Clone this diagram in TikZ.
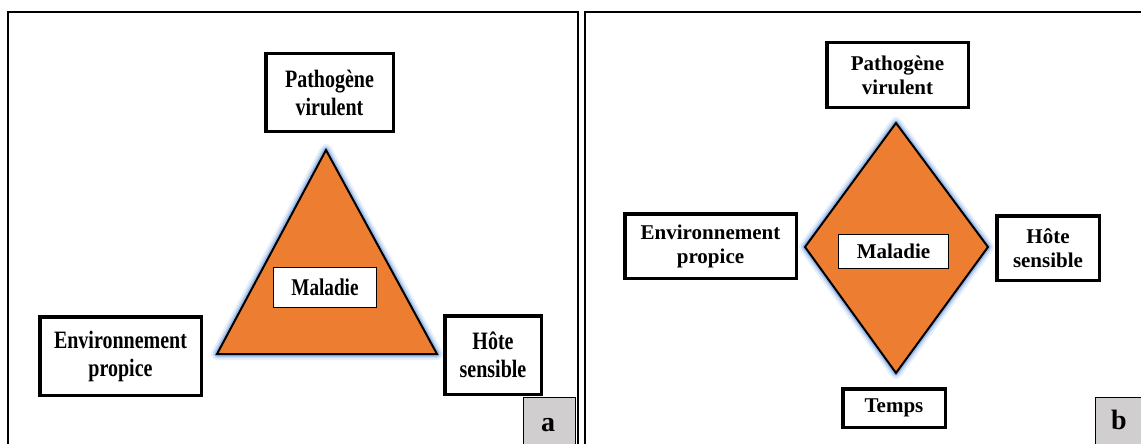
\documentclass[tikz,border=0pt]{standalone}
\usepackage{fontspec}
\setmainfont{Liberation Serif}
\newfontfamily\fonta[FakeStretch=0.8]{Liberation Serif}
\definecolor{orng}{HTML}{ED7D31}
\definecolor{glow}{HTML}{7FA7E6}
\definecolor{lblgray}{HTML}{D0CECE}
\begin{document}
\begin{tikzpicture}[x=1pt,y=-1pt,
  frame/.style={draw=black,line width=1.8pt},
  boxa/.style={draw=black,line width=3.5pt,fill=white,align=center,inner sep=0pt,
    font=\fonta\bfseries\fontsize{25}{28}\selectfont},
  boxb/.style={draw=black,line width=3.5pt,fill=white,align=center,inner sep=0pt,
    font=\bfseries\fontsize{21}{24}\selectfont},
  midbox/.style={draw=black,line width=1pt,fill=white,inner sep=0pt},
  lbl/.style={draw=black,line width=1.2pt,fill=lblgray,inner sep=0pt,
    font=\bfseries\fontsize{28}{30}\selectfont},
  glowA/.style={draw=glow,line width=12pt,line join=round,opacity=0.18},
  glowB/.style={draw=glow,line width=8pt,line join=round,opacity=0.3},
  glowC/.style={draw=glow,line width=5pt,line join=round,opacity=0.6},
  orangeshape/.style={fill=orng,draw=black,line width=2pt,line join=miter}
]
\useasboundingbox (0,0) rectangle (1141,444);
\clip (0,0) rectangle (1141,444);
\fill[white] (0,0) rectangle (1141,444);
% panel frames
\draw[frame] (8,12) rectangle (578,470);
\draw[frame] (585,12) rectangle (1170,470);

% ---------- panel a ----------
\coordinate (ta) at (326,150);
\coordinate (la) at (217,354);
\coordinate (ra) at (437,354);
\draw[glowA] (ta) -- (la) -- (ra) -- cycle;
\draw[glowB] (ta) -- (la) -- (ra) -- cycle;
\draw[glowC] (ta) -- (la) -- (ra) -- cycle;
\draw[orangeshape] (ta) -- (la) -- (ra) -- cycle;

\node[boxa,minimum width=127.5pt,minimum height=77.5pt] (pa) at (329.5,92.5) {Pathogène\\virulent};
\node[boxa,minimum width=161.5pt,minimum height=78.5pt] (ea) at (120.5,356) {Environnement\\propice};
\node[boxa,minimum width=96.5pt,minimum height=78.5pt] (ha) at (493,355) {Hôte\\sensible};
\node[midbox,minimum width=103pt,minimum height=40pt,font=\fonta\bfseries\fontsize{24}{26}\selectfont] (ma) at (325,287.5) {Maladie};
\node[lbl,minimum width=52pt,minimum height=60pt,anchor=north west] (la1) at (523,397) {};
\node[font=\bfseries\fontsize{28}{30}\selectfont] (lat) at (548,425) {a};

% ---------- panel b ----------
\coordinate (tb) at (896,123);
\coordinate (lb) at (805,247);
\coordinate (rb) at (988,247);
\coordinate (bb) at (896,373);
\draw[glowA] (tb) -- (lb) -- (bb) -- (rb) -- cycle;
\draw[glowB] (tb) -- (lb) -- (bb) -- (rb) -- cycle;
\draw[glowC] (tb) -- (lb) -- (bb) -- (rb) -- cycle;
\draw[orangeshape] (tb) -- (lb) -- (bb) -- (rb) -- cycle;

\node[boxb,minimum width=141.5pt,minimum height=64.5pt] (pb) at (897.5,75) {Pathogène\\virulent};
\node[boxb,minimum width=171.5pt,minimum height=64.5pt] (eb) at (710.5,246) {Environnement\\propice};
\node[boxb,minimum width=102.5pt,minimum height=64.5pt] (hb) at (1048,248) {Hôte\\sensible};
\node[boxb,minimum width=102.5pt,minimum height=38.5pt] (tmb) at (894,408) {Temps};
\node[midbox,minimum width=110pt,minimum height=34pt,font=\bfseries\fontsize{21}{24}\selectfont] (mb) at (893.5,251.5) {Maladie};
\node[lbl,minimum width=60pt,minimum height=60pt,anchor=north west] (lb1) at (1095,397) {};
\node[font=\bfseries\fontsize{28}{30}\selectfont] (lbt) at (1119,420) {b};
\end{tikzpicture}
\end{document}
